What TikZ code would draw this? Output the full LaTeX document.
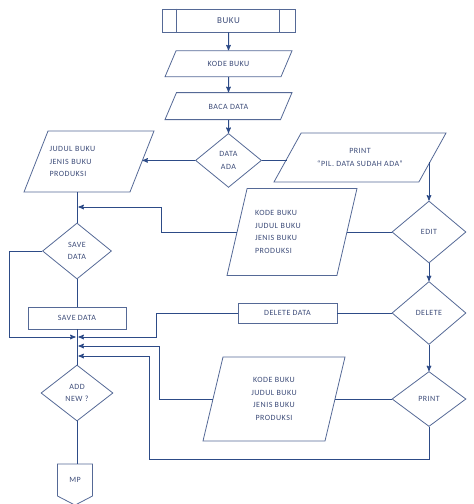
\documentclass[tikz,border=0pt]{standalone}
\usepackage{fontspec}
\newfontfamily\flowfont[LetterSpace=6]{Carlito}
\usepackage{xcolor}
\usetikzlibrary{shapes.geometric}
\usetikzlibrary{shapes.symbols}
\usetikzlibrary{positioning}
\usetikzlibrary{arrows,calc}
\definecolor{linkblue}{RGB}{45,75,135}
\definecolor{shapeblue}{RGB}{85,105,150}
\definecolor{txtblue}{RGB}{60,75,120}

\begin{document}
\begin{tikzpicture}[
x=1pt, y=-1pt,
node distance = 15pt,
>=stealth',
every node/.style={font=\flowfont\fontsize{8}{12.5}\selectfont, text=txtblue},
box/.style={rectangle, draw=shapeblue, line width=.8pt, inner sep=0pt},
data/.style={trapezium, trapezium left angle=#1, trapezium right angle=180-#1, trapezium stretches body, draw=shapeblue, line width=.8pt, inner xsep=0pt},
oneline/.style={text height=6pt, text depth=0pt},
decision/.style={diamond, draw=shapeblue, line width=.8pt, inner sep=0pt, align=center},
offpage/.style={signal, signal to=south, signal pointer angle=125, draw=shapeblue, line width=.8pt, inner sep=0pt, minimum width=35pt, minimum height=35pt},
link/.style={draw=linkblue, line width=1pt}]
\useasboundingbox (0,0) rectangle (474,504);

\node[box, minimum width=133pt, minimum height=23pt, font=\flowfont\fontsize{9}{11}\selectfont] (buku) at (228.5,20.5) {BUKU};
\draw[draw=shapeblue, line width=.8pt] ([xshift=15pt]buku.north west) -- ([xshift=15pt]buku.south west);
\draw[draw=shapeblue, line width=.8pt] ([xshift=-16pt]buku.north east) -- ([xshift=-16pt]buku.south east);
\node[data=67, oneline, inner ysep=10pt, minimum width=127pt] (kode) [below=18pt of buku] {KODE BUKU} edge [link,<-] (buku);
\node[data=67, oneline, inner ysep=10.5pt, minimum width=127pt] (baca) [below=of kode] {BACA DATA} edge [link,<-] (kode);
\node[decision, minimum width=66pt, minimum height=54pt] (ada) [below=13pt of baca] {DATA\\ADA} edge [link,<-] (baca);

\node[data=68.5, inner ysep=15.4pt, minimum width=130pt, text width=79pt, align=left] (judul) at (89,161.5) {JUDUL BUKU\\JENIS BUKU\\PRODUKSI};
\node[data=61, inner ysep=15.6pt, minimum width=172pt, align=center] (printmsg) at (360,157.5) {PRINT\\“PIL. DATA SUDAH ADA”};
\node[decision, minimum width=74pt, minimum height=62pt] (edit) at (429,232) {EDIT};
\node[data=77, inner ysep=22.2pt, minimum width=130pt, text width=74pt, align=left] (editdata) at (292,232) {KODE BUKU\\JUDUL BUKU\\JENIS BUKU\\PRODUKSI};

\node[decision, minimum width=69pt, minimum height=56pt] (save) at (77,251) {SAVE\\DATA};
\node[box, minimum width=98pt, minimum height=22pt] (savedata) at (77,318) {SAVE DATA};
\node[box, minimum width=99pt, minimum height=20pt] (deldata) at (287.5,313) {DELETE DATA};
\node[decision, minimum width=74pt, minimum height=63pt] (delete) at (429,313) {DELETE};
\node[decision, minimum width=74pt, minimum height=55pt] (print) at (429,399) {PRINT};
\node[data=76.6, inner ysep=20.6pt, minimum width=142pt, align=center] (printdata) at (274,399) {KODE BUKU\\JUDUL BUKU\\JENIS BUKU\\PRODUKSI};
\node[decision, minimum width=72pt, minimum height=56pt] (addnew) at (77,393) {ADD\\NEW ?};
\node[offpage] (mp) at (75,480) {MP};

% ends of the arrows on the main line
\coordinate (in1) at (78.4,207);
\coordinate (in2l) at (75.6,337);
\coordinate (in2r) at (78.4,337);
\coordinate (in3) at (78.4,346);
\coordinate (in4) at (78.4,356);
\coordinate (low) at (149,459);
\coordinate (msgside) at ($(printmsg.top right corner)!0.6!(printmsg.bottom right corner)$);

\path [link,->] (ada.west) -- (ada.west -| judul.east);
\path [link] (ada.east) -- (ada.east -| printmsg.west);
\path [link,->] (edit.north |- msgside) -- (edit.north);
\path [link] (edit.west) -- (edit.west -| editdata.east);
\path [link,->] (edit) -- (delete);
\path [link,->] (delete) -- (print);
\path [link] (delete.west) -- (delete.west -| deldata.east);
\path [link] (print.west) -- (print.west -| printdata.east);

\path [link] (judul.south -| save.north) -- (save.north);
\path [link] (save.south) -- (savedata.north);
\path [link] (savedata.south) -- (addnew.north);
\path [link] (addnew.south) -- (addnew.south |- mp.north);

\path [link,->] (editdata.west) -- ++(-75,0) |- (in1);
\path [link,->] (save.west) -- ++(-33,0) |- (in2l);
\path [link,->] (deldata.west) -- ++(-81,0) |- (in2r);
\path [link,->] (printdata.west) -- ++(-53,0) |- (in3);
\path [link,->] (print.south) |- (low) |- (in4);
\end{tikzpicture}
\end{document}
